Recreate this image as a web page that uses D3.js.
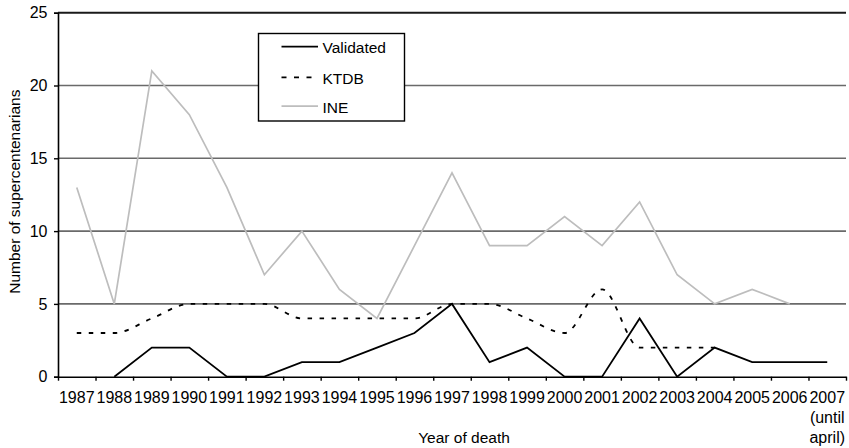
<!DOCTYPE html>
<html>
<head>
<meta charset="utf-8">
<script src="https://cdn.jsdelivr.net/npm/d3@7"></script>
<style>
  html, body { margin: 0; padding: 0; background: #fff; }
  svg { display: block; }
  text { font-family: "Liberation Sans", Arial, Helvetica, sans-serif; fill: #000; }
</style>
</head>
<body>
<svg id="chart" width="849" height="448"></svg>
<script>
const years = ["1987","1988","1989","1990","1991","1992","1993","1994","1995","1996","1997","1998","1999","2000","2001","2002","2003","2004","2005","2006","2007"];
const extraLabel2007 = ["(until", "april)"];
const validated = [null,0,2,2,0,0,1,1,2,3,5,1,2,0,0,4,0,2,1,1,1];
const ktdb      = [3,3,4,5,5,5,4,4,4,4,5,5,4,3,6,2,2,2,null,null,null];
const ine       = [13,5,21,18,13,7,10,6,4,9,14,9,9,11,9,12,7,5,6,5,null];
const yTicks = [0,5,10,15,20,25];
const seriesNames = ["Validated","KTDB","INE"];
const yTitle = "Number of supercentenarians";
const xTitle = "Year of death";

const svg = d3.select("#chart");
const L = 58, R = 846, T = 12.7, B = 376.7;

const x = d3.scaleBand().domain(years).range([L, R]).padding(0);
const xb = d3.scaleLinear().domain([0, years.length]).range([L, R]);
const y = d3.scaleLinear().domain([0, 25]).range([B, T]);

// gridlines
svg.append("g").selectAll("line")
  .data(yTicks.filter(v => v > 0 && v < 25))
  .join("line")
  .attr("x1", L).attr("x2", R)
  .attr("y1", d => y(d)).attr("y2", d => y(d))
  .attr("stroke", "#6a6a6a").attr("stroke-width", 1.6);
svg.append("line")
  .attr("x1", L).attr("x2", R).attr("y1", y(25)).attr("y2", y(25))
  .attr("stroke", "#1a1a1a").attr("stroke-width", 2);

// y axis
const yAxis = svg.append("g").attr("transform", `translate(${L},0)`)
  .call(d3.axisLeft(y).tickValues(yTicks).tickSize(4).tickPadding(6.5));
yAxis.select(".domain").attr("stroke", "#000").attr("stroke-width", 1.6);
yAxis.selectAll(".tick line").attr("stroke", "#000").attr("stroke-width", 1.4);
yAxis.selectAll("text").style("font-size", "16px").style("font-family", "'Liberation Sans', Arial, sans-serif").attr("fill", "#000");

// x axis (ticks at band boundaries)
const xAxis = svg.append("g").attr("transform", `translate(0,${B})`)
  .call(d3.axisBottom(xb).tickValues(d3.range(0, years.length + 1)).tickFormat("").tickSize(4).tickSizeOuter(0));
xAxis.select(".domain").attr("stroke", "#000").attr("stroke-width", 1.6);
xAxis.selectAll(".tick line").attr("stroke", "#000").attr("stroke-width", 1.4);

// x labels
svg.append("g").selectAll("text")
  .data(years)
  .join("text")
  .attr("x", d => x(d) + x.bandwidth() / 2)
  .attr("y", 403.3)
  .attr("text-anchor", "middle")
  .style("font-size", "16px")
  .text(d => d);
svg.append("g").selectAll("text")
  .data(extraLabel2007)
  .join("text")
  .attr("x", x("2007") + x.bandwidth() / 2)
  .attr("y", (d, i) => 423.3 + i * 20)
  .attr("text-anchor", "middle")
  .style("font-size", "16px")
  .text(d => d);

// titles
svg.append("text")
  .attr("x", (L + R) / 2 + 12).attr("y", 443)
  .attr("text-anchor", "middle")
  .style("font-size", "15.5px")
  .text(xTitle);
svg.append("text")
  .attr("transform", `translate(19.5,${(T + B) / 2 - 3}) rotate(-90)`)
  .attr("text-anchor", "middle")
  .style("font-size", "15.5px")
  .text(yTitle);

// lines
const cx = (d, i) => x(years[i]) + x.bandwidth() / 2;
const mk = (curve) => d3.line().defined(d => d != null).x(cx).y(d => y(d)).curve(curve);

svg.append("path").datum(ine)
  .attr("d", mk(d3.curveLinear))
  .attr("fill", "none").attr("stroke", "#bdbdbd").attr("stroke-width", 1.7);
svg.append("path").datum(ktdb)
  .attr("d", mk(d3.curveMonotoneX))
  .attr("fill", "none").attr("stroke", "#000").attr("stroke-width", 1.8)
  .attr("stroke-dasharray", "4.5,7.5");
svg.append("path").datum(validated)
  .attr("d", mk(d3.curveLinear))
  .attr("fill", "none").attr("stroke", "#000").attr("stroke-width", 1.8)
  .attr("stroke-linejoin", "miter");

// legend
const lg = svg.append("g");
lg.append("rect")
  .attr("x", 258.5).attr("y", 33.5).attr("width", 146).attr("height", 87.5)
  .attr("fill", "#fff").attr("stroke", "#000").attr("stroke-width", 1.4);
const rows = [46.7, 77.3, 106.2];
const styles = [
  {stroke: "#000", w: 1.8, dash: null},
  {stroke: "#000", w: 1.8, dash: "5,7.5"},
  {stroke: "#bdbdbd", w: 1.7, dash: null}
];
seriesNames.forEach((name, i) => {
  lg.append("line")
    .attr("x1", 281.5).attr("x2", 318).attr("y1", rows[i]).attr("y2", rows[i])
    .attr("stroke", styles[i].stroke).attr("stroke-width", styles[i].w)
    .attr("stroke-dasharray", styles[i].dash);
  lg.append("text")
    .attr("x", 322.5).attr("y", rows[i] + 6.6)
    .style("font-size", "15.5px")
    .text(name);
});
</script>
</body>
</html>
